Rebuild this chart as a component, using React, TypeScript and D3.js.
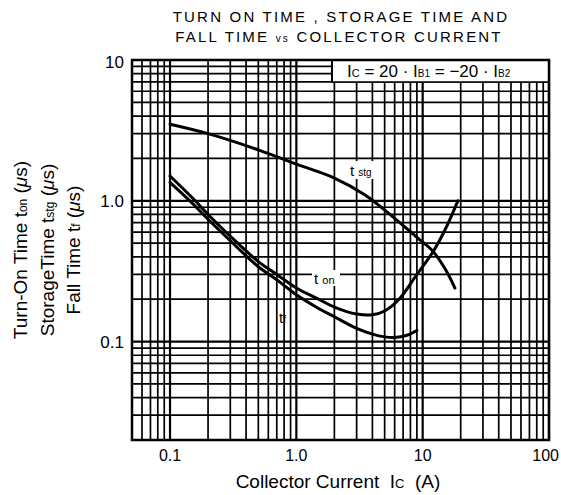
import React from 'react';
import * as d3 from 'd3';

const W = 561;
const H = 495;
const plot = { left: 132, right: 549, top: 60, bottom: 440 };
const FONT = '"Liberation Sans", Arial, Helvetica, sans-serif';

// axis ticks
const xTicks = [0.1, 1, 10, 100];
const xTickLabels = ['0.1', '1.0', '10', '100'];
const yTicks = [0.1, 1, 10];
const yTickLabels = ['0.1', '1.0', '10'];

// curves: [Ic (A), time (us)]
const tstg: [number, number][] = [
  [0.1, 3.5], [0.2, 3.0], [0.5, 2.3], [1, 1.82], [2, 1.45], [3.5, 1.1],
  [6, 0.75], [9, 0.55], [12, 0.44], [15, 0.33], [18, 0.24],
];
const ton: [number, number][] = [
  [0.1, 1.5], [0.15, 1.05], [0.2, 0.8], [0.3, 0.56], [0.5, 0.37], [0.7, 0.3],
  [1, 0.24], [1.5, 0.2], [2, 0.176], [3, 0.157], [4, 0.155], [5, 0.165],
  [6.5, 0.2], [9, 0.3], [12, 0.43], [15, 0.62], [19, 1.0],
];
const tf: [number, number][] = [
  [0.1, 1.35], [0.15, 0.96], [0.2, 0.74], [0.3, 0.52], [0.5, 0.34], [0.7, 0.275],
  [1, 0.215], [1.5, 0.172], [2, 0.15], [3, 0.124], [4, 0.113], [5, 0.108],
  [6, 0.107], [7.5, 0.111], [9, 0.12],
];

const x = d3.scaleLog().domain([0.05, 100]).range([plot.left, plot.right]);
const y = d3.scaleLog().domain([0.02, 10]).range([plot.bottom, plot.top]);

const line = d3.line<[number, number]>()
  .x(d => x(d[0]))
  .y(d => y(d[1]))
  .curve(d3.curveCatmullRom.alpha(0.5));

const isDecade = (v: number) => Math.abs(Math.log10(v) - Math.round(Math.log10(v))) < 1e-6;

export default function App() {
  const xGrid = x.ticks();
  const yGrid = y.ticks();

  return (
    <svg width={W} height={H} style={{ position: 'absolute', left: 0, top: 0, background: '#fff' }}
      fontFamily={FONT}>
      <rect x={0} y={0} width={W} height={H} fill="#fff" />

      {/* title */}
      <text x={341} y={22} textAnchor="middle" fontSize={15} letterSpacing={2.2}>
        TURN ON TIME , STORAGE TIME AND
      </text>
      <text x={339} y={42} textAnchor="middle" fontSize={15} letterSpacing={2.2}>
        FALL TIME <tspan fontSize={10}>vs</tspan> COLLECTOR CURRENT
      </text>

      {/* grid */}
      <g stroke="#000">
        {xGrid.map((v, i) => (
          <line key={'gx' + i} x1={x(v)} x2={x(v)} y1={plot.top} y2={plot.bottom}
            strokeWidth={isDecade(v) ? 2.2 : 1.7} />
        ))}
        {yGrid.map((v, i) => (
          <line key={'gy' + i} x1={plot.left} x2={plot.right} y1={y(v)} y2={y(v)}
            strokeWidth={isDecade(v) ? 2.2 : 1.7} />
        ))}
      </g>

      {/* condition box */}
      <rect x={332} y={plot.top} width={plot.right - 332} height={22} fill="#fff" stroke="none" />
      <line x1={332} x2={332} y1={plot.top} y2={82} stroke="#000" strokeWidth={2} />
      <line x1={332} x2={plot.right} y1={82} y2={82} stroke="#000" strokeWidth={1.5} />
      <text x={347} y={77} fontSize={17} style={{ whiteSpace: 'pre' }}>
        I<tspan fontSize={11}>C</tspan> = 20 · I<tspan fontSize={10}>B1</tspan> = −20 · I<tspan fontSize={10}>B2</tspan>
      </text>

      {/* frame */}
      <rect x={plot.left} y={plot.top} width={plot.right - plot.left} height={plot.bottom - plot.top}
        fill="none" stroke="#000" strokeWidth={2.5} />

      {/* curves */}
      <g fill="none" stroke="#000" strokeWidth={3} strokeLinecap="round">
        <path d={line(tstg) ?? ''} />
        <path d={line(ton) ?? ''} />
        <path d={line(tf) ?? ''} />
      </g>

      {/* curve labels */}
      <g fontSize={15}>
        <rect x={347} y={161} width={32} height={18} fill="#fff" />
        <text x={350} y={176}>t <tspan fontSize={10}>stg</tspan></text>
        <rect x={312} y={270} width={28} height={16} fill="#fff" />
        <text x={314} y={284}>t <tspan fontSize={11}>on</tspan></text>
        <text x={279} y={323}>t<tspan fontSize={10}>f</tspan></text>
      </g>

      {/* x ticks */}
      {xTicks.map((v, i) => {
        const px = x(v);
        const atEdge = px + 15 > W;
        return (
          <text key={'xt' + i} x={atEdge ? W - 2 : px} y={461}
            textAnchor={atEdge ? 'end' : 'middle'} fontSize={16}>{xTickLabels[i]}</text>
        );
      })}
      {/* y ticks */}
      {yTicks.map((v, i) => (
        <text key={'yt' + i} x={124} y={y(v) + (v === 10 ? 8 : 6)} textAnchor="end" fontSize={17}>{yTickLabels[i]}</text>
      ))}

      {/* axis titles */}
      <text x={338} y={488} textAnchor="middle" fontSize={19} style={{ whiteSpace: 'pre' }}>
        Collector Current  I<tspan fontSize={13}>C</tspan>  (A)
      </text>
      <g fontSize={19} textAnchor="middle" style={{ whiteSpace: 'pre' }}>
        <text transform="translate(27,250) rotate(-90)">
          Turn-On Time  t<tspan fontSize={12}>on</tspan>  (<tspan fontStyle="italic">μ</tspan>s)
        </text>
        <text transform="translate(54,250) rotate(-90)">
          StorageTime  t<tspan fontSize={12}>stg</tspan>  (<tspan fontStyle="italic">μ</tspan>s)
        </text>
        <text transform="translate(80,250) rotate(-90)">
          Fall Time  t<tspan fontSize={12}>f</tspan>  (<tspan fontStyle="italic">μ</tspan>s)
        </text>
      </g>
    </svg>
  );
}
